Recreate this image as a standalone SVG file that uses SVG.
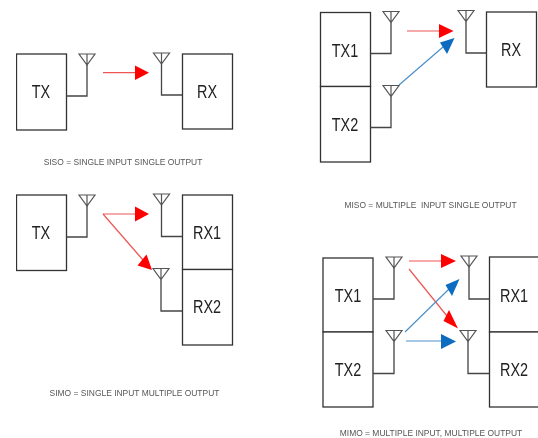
<svg xmlns="http://www.w3.org/2000/svg" width="538" height="438" viewBox="0 0 538 438">
<style>
.box{fill:#fff;stroke:#333;stroke-width:1.3}
.wire{fill:none;stroke:#444;stroke-width:1.3}
.label{font-family:"Liberation Sans",Arial,sans-serif;font-size:18.500px;fill:#222;text-anchor:middle}
.cap{font-family:"Liberation Sans",Arial,sans-serif;font-size:9.500px;fill:#555;text-anchor:middle;white-space:pre}
.red{fill:none;stroke:#ee5555;stroke-width:1.2}
.blue{fill:none;stroke:#4a90c8;stroke-width:1.2}
.rh{fill:#f00}.bh{fill:#0a6cc0}
</style>
<defs>
<filter id="soft" x="0" y="0" width="100%" height="100%"><feGaussianBlur stdDeviation="0.45"/></filter>
<path id="ant" d="M-8 0H8L0 11ZM0 11V0" fill="none" stroke="#555" stroke-width="1.2"/>
</defs>
<rect width="538" height="438" fill="#fff"/>
<g filter="url(#soft)">
<g id="siso">
<g id="siso-tx"><rect class="box" x="16.500" y="54" width="50" height="76"/><text class="label" transform="translate(41 97.500) scale(.78 1)">TX</text></g>
<g id="siso-rx"><rect class="box" x="182.500" y="54" width="50" height="75"/><text class="label" transform="translate(207 97.500) scale(.78 1)">RX</text></g>
<g id="siso-tx-ant"><use href="#ant" x="87" y="54"/><path class="wire" d="M66.500 96H87V65"/></g>
<g id="siso-rx-ant"><use href="#ant" x="161.500" y="53"/><path class="wire" d="M182.500 95H161.500V64"/></g>
<text class="cap" transform="translate(123 164.500) scale(.89 1)">SISO = SINGLE INPUT SINGLE OUTPUT</text>
</g>
<g id="simo">
<g id="simo-tx"><rect class="box" x="16.500" y="195" width="50" height="75.500"/><text class="label" transform="translate(41 238.500) scale(.78 1)">TX</text></g>
<g id="simo-rx1"><rect class="box" x="182.500" y="195" width="50" height="74.500"/><text class="label" transform="translate(207 238.500) scale(.78 1)">RX1</text></g>
<g id="simo-rx2"><rect class="box" x="182.500" y="269.500" width="50" height="75.500"/><text class="label" transform="translate(207 312.500) scale(.78 1)">RX2</text></g>
<g id="simo-tx-ant"><use href="#ant" x="87" y="195"/><path class="wire" d="M66.500 237H87V206"/></g>
<g id="simo-rx1-ant"><use href="#ant" x="161.500" y="194"/><path class="wire" d="M182.500 236.500H161.500V205"/></g>
<g id="simo-rx2-ant"><use href="#ant" x="161" y="268.500"/><path class="wire" d="M182.500 311H161V279.500"/></g>
<text class="cap" transform="translate(134.500 395.500) scale(.89 1)">SIMO = SINGLE INPUT MULTIPLE OUTPUT</text>
</g>
<g id="miso">
<g id="miso-tx1"><rect class="box" x="320.500" y="12.500" width="50" height="74"/><text class="label" transform="translate(345 56.500) scale(.78 1)">TX1</text></g>
<g id="miso-tx2"><rect class="box" x="320.500" y="86.500" width="50" height="75.500"/><text class="label" transform="translate(345 130.500) scale(.78 1)">TX2</text></g>
<g id="miso-rx"><rect class="box" x="486.500" y="12" width="50" height="75"/><text class="label" transform="translate(511 55.500) scale(.78 1)">RX</text></g>
<g id="miso-tx1-ant"><use href="#ant" x="391" y="11.500"/><path class="wire" d="M370.500 53.500H391V22.500"/></g>
<g id="miso-tx2-ant"><use href="#ant" x="391" y="85.500"/><path class="wire" d="M370.500 127.500H391V96.500"/></g>
<g id="miso-rx-ant"><use href="#ant" x="466" y="10.500"/><path class="wire" d="M486.500 53H466V21.500"/></g>
<text class="cap" transform="translate(430.500 208) scale(.89 1)">MISO = MULTIPLE  INPUT SINGLE OUTPUT</text>
</g>
<g id="mimo">
<g id="mimo-tx1"><rect class="box" x="323" y="258" width="50" height="74"/><text class="label" transform="translate(348 301.500) scale(.78 1)">TX1</text></g>
<g id="mimo-tx2"><rect class="box" x="323" y="332" width="50" height="75"/><text class="label" transform="translate(348 375.500) scale(.78 1)">TX2</text></g>
<g id="mimo-rx1"><rect class="box" x="489.500" y="257" width="50" height="75"/><text class="label" transform="translate(514 301.500) scale(.78 1)">RX1</text></g>
<g id="mimo-rx2"><rect class="box" x="489.500" y="332" width="50" height="75"/><text class="label" transform="translate(514 375.500) scale(.78 1)">RX2</text></g>
<g id="mimo-tx1-ant"><use href="#ant" x="394" y="257"/><path class="wire" d="M373 299H394V268"/></g>
<g id="mimo-tx2-ant"><use href="#ant" x="394" y="330.500"/><path class="wire" d="M373 373.500H394V341.500"/></g>
<g id="mimo-rx1-ant"><use href="#ant" x="469" y="256"/><path class="wire" d="M489.500 299H469V267"/></g>
<g id="mimo-rx2-ant"><use href="#ant" x="468" y="330.500"/><path class="wire" d="M489.500 373.500H468V341.500"/></g>
<text class="cap" transform="translate(431 435.500) scale(.89 1)">MIMO = MULTIPLE INPUT, MULTIPLE OUTPUT</text>
</g>
<g id="connectors">
<path class="red" d="M103 72.700H136"/><path class="rh" d="M135 65.500L149 72.700L135 80Z"/>
<path class="red" d="M103 214H136"/><path class="rh" d="M135 206.500L149 214L135 221.500Z"/>
<path class="red" d="M103 214L143 260"/><path class="rh" d="M146.500 254.500L152 270L137.500 265.500Z"/>
<path class="red" d="M407 31H440"/><path class="rh" d="M439 24L453.500 31L439 38Z"/>
<path class="blue" d="M399 85L443 47"/><path class="bh" d="M440 42.500L454.500 38L447 54Z"/>
<path class="red" d="M409 269L447 316"/><path class="rh" d="M449 310L458 328.500L443.500 321Z"/>
<path class="red" d="M409 261H442"/><path class="rh" d="M441 254L456 261L441 268Z"/>
<path class="blue" d="M405 332L449 289"/><path class="bh" d="M445.500 285L459.500 279L452 296Z"/>
<path class="blue" d="M406 341H442"/><path class="bh" d="M441 334L456 341.500L441 349Z"/>
</g>
</g>
</svg>
